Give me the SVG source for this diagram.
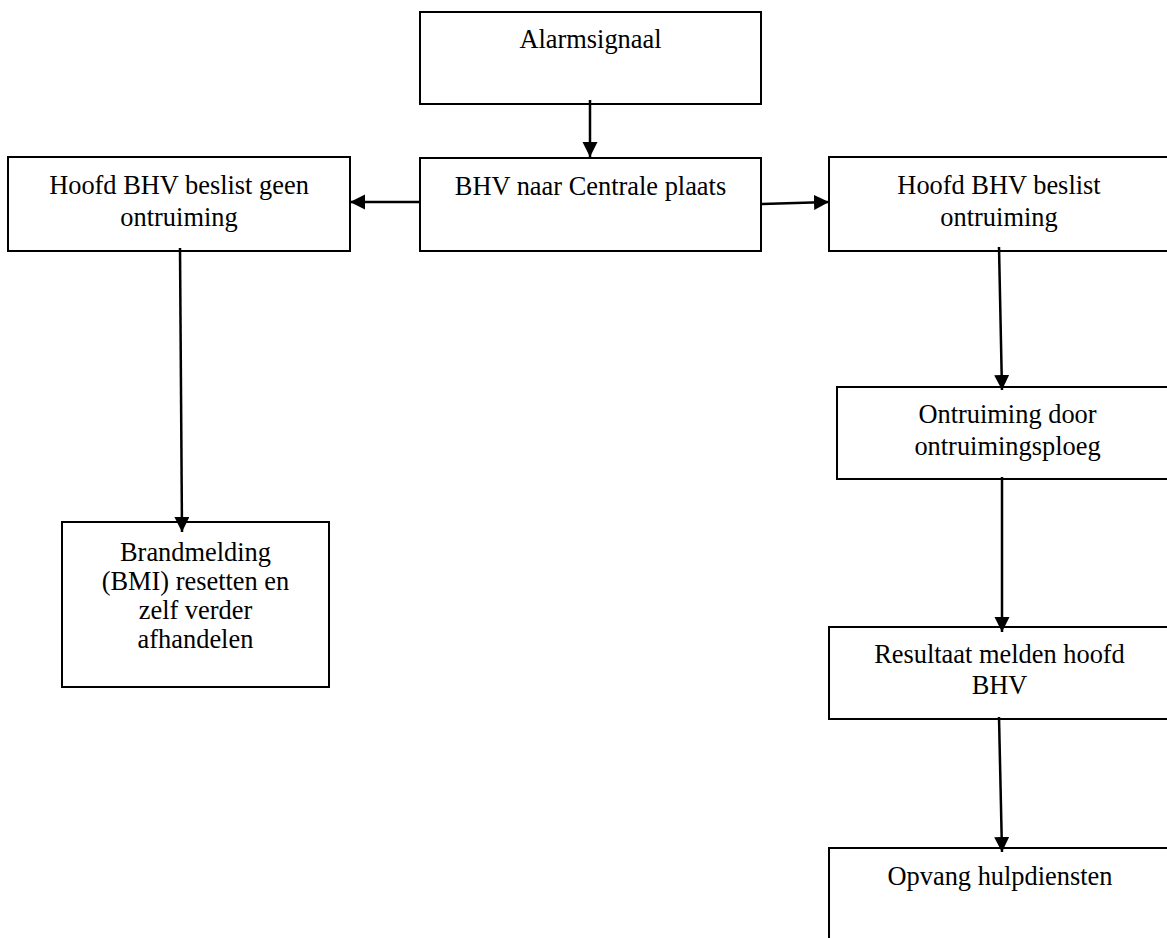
<svg xmlns="http://www.w3.org/2000/svg" width="1167" height="938" viewBox="0 0 1167 938">
<style>
.box{fill:#fff;stroke:#000;stroke-width:2}
.t{font-family:"Liberation Serif","Times New Roman",serif;font-size:26.4px;fill:#000;text-anchor:middle}
.c{stroke:#000;stroke-width:2.5;fill:none;marker-end:url(#ah)}
</style>
<defs>
<marker id="ah" markerUnits="userSpaceOnUse" markerWidth="16" markerHeight="16" refX="15" refY="7.5" orient="auto">
<path d="M0,0 L15,7.5 L0,15 Z" fill="#000"/>
</marker>
</defs>
<rect width="1167" height="938" fill="#fff"/>
<g id="n-alarm"><rect class="box" x="420" y="12" width="341" height="92"/><text class="t" x="590.5" y="48">Alarmsignaal</text></g>
<g id="n-bhv"><rect class="box" x="420" y="158" width="341" height="93"/><text class="t" x="590.5" y="195">BHV naar Centrale plaats</text></g>
<g id="n-geen"><rect class="box" x="8" y="157" width="342" height="94"/><text class="t" x="179" y="194">Hoofd BHV beslist geen</text><text class="t" x="179" y="226">ontruiming</text></g>
<g id="n-ontr"><rect class="box" x="829" y="157" width="342" height="94"/><text class="t" x="999" y="194">Hoofd BHV beslist</text><text class="t" x="999" y="226">ontruiming</text></g>
<g id="n-bmi"><rect class="box" x="62" y="522" width="267" height="165"/><text class="t" x="195.5" y="561">Brandmelding</text><text class="t" x="195.5" y="590">(BMI) resetten en</text><text class="t" x="195.5" y="619">zelf verder</text><text class="t" x="195.5" y="648">afhandelen</text></g>
<g id="n-ploeg"><rect class="box" x="837" y="387" width="342" height="92"/><text class="t" x="1007.5" y="423">Ontruiming door</text><text class="t" x="1007.5" y="455">ontruimingsploeg</text></g>
<g id="n-result"><rect class="box" x="829" y="627" width="342" height="92"/><text class="t" x="999.5" y="663">Resultaat melden hoofd</text><text class="t" x="999.5" y="694">BHV</text></g>
<g id="n-opvang"><rect class="box" x="829" y="848" width="342" height="100"/><text class="t" x="1000" y="885">Opvang hulpdiensten</text></g>
<g id="connectors">
<line class="c" x1="590" y1="100" x2="590" y2="157"/>
<line class="c" x1="420" y1="202" x2="350" y2="202"/>
<line class="c" x1="761" y1="204" x2="829" y2="202"/>
<line class="c" x1="180" y1="248" x2="182" y2="532"/>
<line class="c" x1="999" y1="247" x2="1002" y2="390"/>
<line class="c" x1="1002" y1="477" x2="1002" y2="632"/>
<line class="c" x1="999" y1="717" x2="1002" y2="852"/>
</g>
</svg>
